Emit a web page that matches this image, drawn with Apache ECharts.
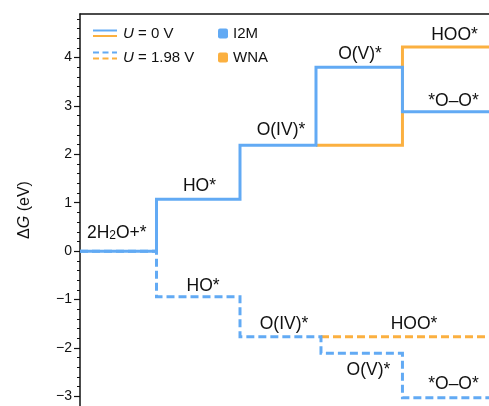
<!DOCTYPE html>
<html><head><meta charset="utf-8">
<script src="https://cdn.jsdelivr.net/npm/echarts@6/dist/echarts.min.js"></script>
<style>html,body{margin:0;padding:0;background:#fff}#c{width:489px;height:406px}</style>
</head><body><div id="c"></div>
<script>
// Reaction-coordinate step boundaries and free-energy levels (eV)
const stepX0 = [0, 0.935, 1.956, 2.885, 3.942, 5];
const i2mU0 = [0, 1.07, 2.19, 3.80, 2.88, 2.88];
const wnaU0X = [2.885, 3.942, 5];
const wnaU0 = [2.19, 4.22, 4.22];
const stepX198 = [0, 0.935, 1.956, 2.946, 3.942, 5];
const i2mU198 = [0, -0.94, -1.77, -2.11, -3.03, -3.03];
const wnaU198X = [2.946, 5];
const wnaU198 = [-1.77, -1.77];
// Intermediate labels
const labelText = ['2H{sub|2}O+*', 'HO*', 'O(IV)*', 'O(V)*', 'HOO*', '*O–O*', 'HO*', 'O(IV)*', 'HOO*', 'O(V)*', '*O–O*'];
const labelX = [0.45, 1.46, 2.457, 3.423, 4.578, 4.566, 1.504, 2.494, 4.083, 3.526, 4.566];
const labelY = [0.375, 1.35, 2.49, 4.06, 4.47, 3.09, -0.73, -1.50, -1.50, -2.45, -2.74];
// Axis ticks
const yTicks = [-3, -2, -1, 0, 1, 2, 3, 4];
const yMinorTicks = [];
for (let i = -16; i <= 24; i++) if (i % 5 !== 0) yMinorTicks.push(i / 5);
const yMin = -3.2, yMax = 4.9;

const BLUE = '#62AAF4', ORANGE = '#FBB040', INK = '#111111';
const FONT = 'Liberation Sans, Arial, Helvetica, sans-serif';
const zip = (xs, ys) => xs.map((x, i) => [x, ys[i]]);

const chart = echarts.init(document.getElementById('c'), null, {renderer: 'canvas'});
const lineSeries = (data, color, dashed) => ({
  type: 'line', data, step: 'end', symbol: 'none', silent: true,
  lineStyle: {color, width: 3, type: dashed ? [8, 4] : 'solid', cap: 'butt', join: 'miter'},
  z: 2
});
chart.setOption({
  animation: false,
  grid: {left: 80, top: 14, right: 0, bottom: 0, containLabel: false},
  xAxis: {
    type: 'value', min: 0, max: 5, position: 'top',
    axisLine: {show: true, onZero: false, lineStyle: {color: INK, width: 1.5}},
    axisTick: {show: false}, axisLabel: {show: false}, splitLine: {show: false}
  },
  yAxis: [{
    type: 'value', min: yMin, max: yMax,
    name: '{d|Δ}{i|G}{d| (eV)}', nameLocation: 'middle', nameGap: 47, nameRotate: 90,
    nameTextStyle: {rich: {
      d: {fontSize: 16, fontFamily: FONT, color: INK},
      i: {fontSize: 16, fontFamily: FONT, color: INK, fontStyle: 'italic'}
    }},
    axisLine: {show: true, onZero: false, lineStyle: {color: INK, width: 1.5}},
    axisTick: {show: true, inside: false, length: 6, customValues: yTicks, lineStyle: {color: INK, width: 1.2}},
    axisLabel: {
      fontSize: 14, fontFamily: FONT, color: INK, margin: 8, customValues: yTicks,
      formatter: v => String(Math.round(v)).replace('-', '−')
    },
    splitLine: {show: false}
  }, {
    type: 'value', min: yMin, max: yMax, position: 'left', offset: 0,
    axisLine: {show: false},
    axisTick: {show: true, inside: false, length: 3, customValues: yMinorTicks, lineStyle: {color: INK, width: 1}},
    axisLabel: {show: false},
    splitLine: {show: false}
  }],
  series: [
    lineSeries(zip(wnaU0X, wnaU0), ORANGE, false),
    lineSeries(zip(wnaU198X, wnaU198), ORANGE, true),
    lineSeries(zip(stepX0, i2mU0), BLUE, false),
    lineSeries(zip(stepX198, i2mU198), BLUE, true),
    {
      type: 'scatter', symbolSize: 0, silent: true, z: 5,
      itemStyle: {opacity: 1},
      data: labelText.map((t, i) => [labelX[i], labelY[i], t]),
      label: {
        show: true, position: 'inside', color: INK, textBorderWidth: 0, opacity: 1,
        fontSize: 17.5, fontFamily: FONT,
        formatter: p => p.data[2],
        rich: {
          sub: {fontSize: 12, fontFamily: FONT, color: INK, textBorderWidth: 0, verticalAlign: 'bottom', lineHeight: 12, padding: [12, 0, 0, 0]}
        }
      }
    }
  ],
  graphic: [
    {type: 'line', shape: {x1: 93, y1: 30.5, x2: 117, y2: 30.5}, style: {stroke: BLUE, lineWidth: 2}},
    {type: 'line', shape: {x1: 93, y1: 36, x2: 117, y2: 36}, style: {stroke: ORANGE, lineWidth: 2}},
    {type: 'line', shape: {x1: 93, y1: 52.5, x2: 117, y2: 52.5}, style: {stroke: BLUE, lineWidth: 2, lineDash: [6, 3.5]}},
    {type: 'line', shape: {x1: 93, y1: 58.5, x2: 117, y2: 58.5}, style: {stroke: ORANGE, lineWidth: 2, lineDash: [6, 3.5]}},
    {type: 'text', x: 123, y: 33.5, style: {text: '{i|U} = 0 V', fill: INK, fontSize: 15, fontFamily: FONT, verticalAlign: 'middle',
      rich: {i: {fontStyle: 'italic', fontSize: 15, fontFamily: FONT, fill: INK}}}},
    {type: 'text', x: 123, y: 57.5, style: {text: '{i|U} = 1.98 V', fill: INK, fontSize: 15, fontFamily: FONT, verticalAlign: 'middle',
      rich: {i: {fontStyle: 'italic', fontSize: 15, fontFamily: FONT, fill: INK}}}},
    {type: 'rect', shape: {x: 218, y: 28.5, width: 10, height: 10, r: 2}, style: {fill: BLUE}},
    {type: 'rect', shape: {x: 218, y: 52.5, width: 10, height: 10, r: 2}, style: {fill: ORANGE}},
    {type: 'text', x: 233, y: 33.5, style: {text: 'I2M', fill: INK, fontSize: 15, fontFamily: FONT, verticalAlign: 'middle'}},
    {type: 'text', x: 233, y: 57.5, style: {text: 'WNA', fill: INK, fontSize: 15, fontFamily: FONT, verticalAlign: 'middle'}}
  ]
});
</script></body></html>
